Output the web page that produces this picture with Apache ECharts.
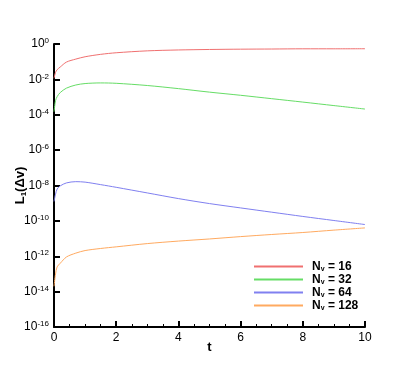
<!DOCTYPE html>
<html>
<head>
<meta charset="utf-8">
<script src="https://cdn.jsdelivr.net/npm/echarts@6/dist/echarts.min.js"></script>
<style>
html,body{margin:0;padding:0;background:#fff;}
#chart{width:415px;height:369px;}
</style>
</head>
<body>
<div id="chart"></div>
<script>
// time samples
var tVals = [0, 0.05, 0.1, 0.2, 0.4, 0.7, 1.0, 1.5, 2, 3, 4, 5, 6, 7, 8, 9, 10];
// L1(Δv) for each N_v
var nv16  = [1.15e-2, 2.5e-2, 3.5e-2, 5.0e-2, 9.5e-2, 0.14, 0.19, 0.26, 0.32, 0.41, 0.46, 0.49, 0.51, 0.52, 0.535, 0.535, 0.54];
var nv32  = [1.5e-4, 6.3e-4, 1.05e-3, 1.8e-3, 3.2e-3, 4.8e-3, 5.8e-3, 6.3e-3, 6.0e-3, 4.5e-3, 3.0e-3, 1.9e-3, 1.26e-3, 8.1e-4, 5.2e-4, 3.3e-4, 2.1e-4];
var nv64  = [1.26e-9, 3.2e-9, 6.3e-9, 9.5e-9, 1.4e-8, 1.65e-8, 1.55e-8, 1.12e-8, 7.9e-9, 3.8e-9, 1.82e-9, 9.5e-10, 5.4e-10, 3.1e-10, 1.78e-10, 1.05e-10, 6.2e-11];
var nv128 = [2.0e-14, 1.0e-13, 2.5e-13, 4.0e-13, 9.1e-13, 1.5e-12, 2.1e-12, 2.75e-12, 3.4e-12, 5.2e-12, 7.2e-12, 9.5e-12, 1.29e-11, 1.7e-11, 2.2e-11, 3.0e-11, 4.0e-11];
var seriesNames = ['16', '32', '64', '128'];
var seriesColors = ['#f07070', '#66dd66', '#8080f0', '#ffaa60'];

var FONT = '"Liberation Sans", Arial, Helvetica, sans-serif';
var allData = [nv16, nv32, nv64, nv128];

var chart = echarts.init(document.getElementById('chart'), null, {renderer: 'canvas'});
var series = allData.map(function (arr, k) {
  return {
    name: seriesNames[k],
    type: 'line',
    smooth: 0.3,
    showSymbol: false,
    symbol: 'none',
    data: tVals.map(function (t, i) { return [t, arr[i]]; }),
    lineStyle: {color: seriesColors[k], width: 1},
    itemStyle: {color: seriesColors[k]}
  };
});

chart.setOption({
  animation: false,
  backgroundColor: '#fff',
  grid: {left: 54, right: 50, top: 44, bottom: 42, containLabel: false, outerBoundsMode: 'none'},
  legend: {
    orient: 'vertical',
    left: 254,
    top: 260,
    padding: 0,
    itemWidth: 49,
    itemHeight: 2,
    itemGap: 0,
    icon: 'rect',
    data: seriesNames,
    formatter: function (name) { return 'N{sub|v} = ' + name; },
    textStyle: {
      fontFamily: FONT, fontSize: 12, fontWeight: 'bold', color: '#000',
      lineHeight: 13, padding: [0, 0, 0, 4],
      rich: {
        sub: {fontFamily: FONT, fontSize: 7, fontWeight: 'bold', color: '#000', verticalAlign: 'bottom', padding: [6, 0, 0, 0], lineHeight: 13}
      }
    }
  },
  xAxis: {
    type: 'value',
    min: 0, max: 10, interval: 2,
    name: 't',
    nameLocation: 'middle',
    nameGap: 14,
    nameMoveOverlap: false,
    nameTextStyle: {fontFamily: FONT, fontSize: 13, fontWeight: 'bold', color: '#000'},
    axisLine: {show: true, lineStyle: {color: '#000', width: 2}},
    axisTick: {show: true, inside: true, length: 6, lineStyle: {color: '#000', width: 2}},
    minorTick: {show: true, splitNumber: 4, length: 3, lineStyle: {color: '#000', width: 1}},
    axisLabel: {fontFamily: FONT, fontSize: 12, color: '#000', margin: 5,
      formatter: function (v) { return String(v); }},
    splitLine: {show: false}
  },
  yAxis: {
    type: 'log',
    logBase: 10,
    min: 1e-16, max: 1,
    interval: 2,
    name: 'L{sub|1}(Δv)',
    nameLocation: 'middle',
    nameGap: 27,
    nameMoveOverlap: false,
    nameRotate: 90,
    nameTextStyle: {fontFamily: FONT, fontSize: 13, fontWeight: 'bold', color: '#000',
      rich: {sub: {fontFamily: FONT, fontSize: 8, fontWeight: 'bold', color: '#000', padding: [0, 0, -6, 0]}}},
    axisLine: {show: true, lineStyle: {color: '#000', width: 2}},
    axisTick: {show: true, inside: true, length: 6, lineStyle: {color: '#000', width: 2}},
    minorTick: {show: false},
    axisLabel: {
      fontFamily: FONT, fontSize: 12, color: '#000', margin: 5,
      formatter: function (v) {
        var e = Math.round(Math.log10(v));
        return '10{sup|' + e + '}';
      },
      rich: {sup: {fontFamily: FONT, fontSize: 8, color: '#000', verticalAlign: 'top', padding: [0, 0, 6, 0]}}
    },
    splitLine: {show: false}
  },
  series: series
});
</script>
</body>
</html>
